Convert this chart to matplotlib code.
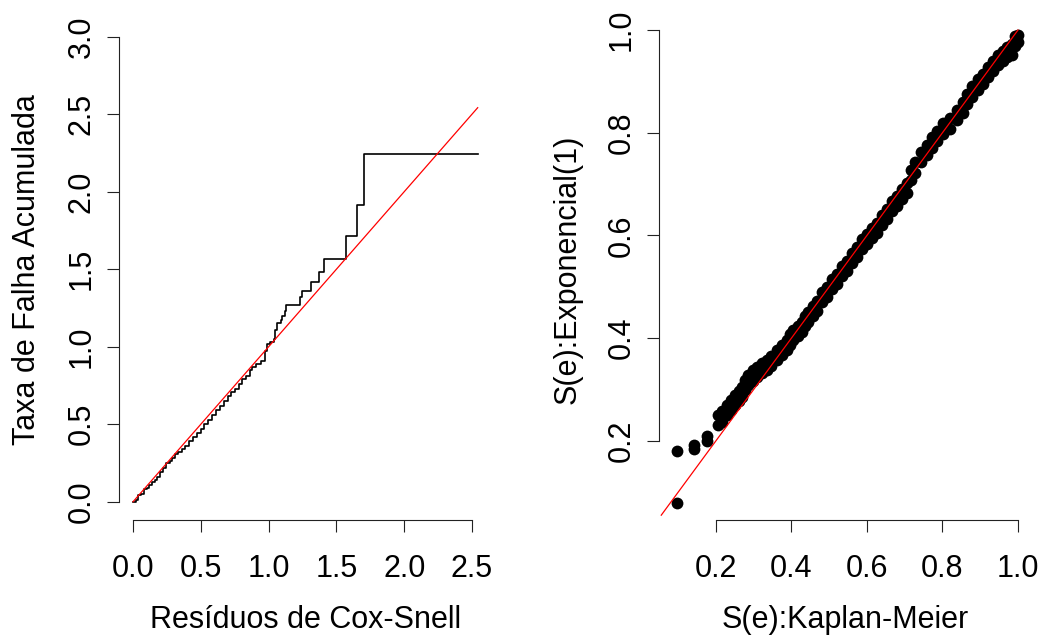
import matplotlib
matplotlib.use("Agg")
import matplotlib.pyplot as plt

plt.rcParams['font.family'] = ['Liberation Sans', 'DejaVu Sans']

# ---------------- data ----------------
# Left panel: Nelson-Aalen cumulative hazard of Cox-Snell residuals (step function)
cs_resid = [0.000, 0.020, 0.040, 0.060, 0.080, 0.100, 0.120, 0.140, 0.160, 0.180,
            0.200, 0.220, 0.240, 0.270, 0.290, 0.310, 0.330, 0.360, 0.380, 0.410,
            0.440, 0.470, 0.500, 0.520, 0.550, 0.580, 0.610, 0.640, 0.670, 0.700,
            0.720, 0.750, 0.780, 0.800, 0.830, 0.860, 0.880, 0.910, 0.940, 0.975,
            0.990, 1.010, 1.040, 1.050, 1.060, 1.090, 1.100, 1.120, 1.130, 1.233,
            1.246, 1.312, 1.368, 1.405, 1.567, 1.651, 1.707, 2.542]
cs_cumhaz = [0.000, 0.010, 0.040, 0.050, 0.080, 0.090, 0.110, 0.130, 0.140, 0.160,
             0.190, 0.220, 0.250, 0.260, 0.280, 0.310, 0.320, 0.340, 0.360, 0.390,
             0.420, 0.440, 0.470, 0.500, 0.530, 0.560, 0.590, 0.620, 0.650, 0.680,
             0.710, 0.730, 0.760, 0.790, 0.810, 0.850, 0.870, 0.890, 0.910, 0.970,
             1.020, 1.030, 1.050, 1.110, 1.150, 1.170, 1.200, 1.230, 1.269, 1.323,
             1.361, 1.419, 1.484, 1.568, 1.714, 1.912, 2.245, 2.245]
ref_left = [0.0, 2.542]          # red identity line, left panel

# Right panel: S(e) Kaplan-Meier vs S(e) Exponential(1)
km_surv = [0.0975, 0.0975, 0.142, 0.142, 0.177, 0.177,
           0.206, 0.206, 0.215, 0.215, 0.228, 0.228, 0.240, 0.240, 0.250, 0.250,
           0.260, 0.260, 0.268, 0.268, 0.278, 0.278, 0.286, 0.286, 0.297, 0.297,
           0.308, 0.308, 0.321, 0.321, 0.334, 0.334, 0.347, 0.347, 0.361, 0.361,
           0.374, 0.374, 0.387, 0.387, 0.397, 0.397, 0.405, 0.405, 0.416, 0.416,
           0.427, 0.427, 0.436, 0.436, 0.445, 0.445, 0.456, 0.456, 0.467, 0.467,
           0.480, 0.480, 0.493, 0.493, 0.506, 0.506, 0.520, 0.520, 0.533, 0.533,
           0.546, 0.546, 0.560, 0.560, 0.573, 0.573, 0.586, 0.586, 0.599, 0.599,
           0.612, 0.612, 0.626, 0.626, 0.639, 0.639, 0.652, 0.652, 0.665, 0.665,
           0.679, 0.679, 0.692, 0.692, 0.705, 0.705, 0.716, 0.716, 0.727, 0.727,
           0.742, 0.742, 0.758, 0.758, 0.771, 0.771, 0.785, 0.785, 0.802, 0.802,
           0.820, 0.820, 0.838, 0.838, 0.855, 0.855, 0.866, 0.866, 0.877, 0.877,
           0.893, 0.893, 0.908, 0.908, 0.921, 0.921, 0.935, 0.935, 0.948, 0.948,
           0.961, 0.961, 0.972, 0.972, 0.983, 0.983, 0.992, 0.992, 1.000, 1.000]
exp_surv = [0.078, 0.180, 0.183, 0.192, 0.200, 0.209,
            0.250, 0.230, 0.257, 0.237, 0.270, 0.250, 0.280, 0.260, 0.289, 0.269,
            0.297, 0.277, 0.305, 0.285, 0.318, 0.298, 0.328, 0.308, 0.337, 0.317,
            0.344, 0.324, 0.351, 0.331, 0.357, 0.337, 0.366, 0.346, 0.377, 0.357,
            0.387, 0.367, 0.396, 0.376, 0.407, 0.387, 0.416, 0.396, 0.424, 0.404,
            0.432, 0.412, 0.443, 0.423, 0.451, 0.431, 0.462, 0.442, 0.473, 0.453,
            0.490, 0.470, 0.500, 0.480, 0.515, 0.495, 0.525, 0.505, 0.540, 0.520,
            0.551, 0.531, 0.566, 0.546, 0.577, 0.557, 0.593, 0.573, 0.603, 0.583,
            0.615, 0.595, 0.625, 0.605, 0.640, 0.620, 0.651, 0.631, 0.667, 0.647,
            0.677, 0.657, 0.690, 0.670, 0.702, 0.682, 0.728, 0.708, 0.742, 0.722,
            0.762, 0.742, 0.776, 0.756, 0.791, 0.771, 0.803, 0.783, 0.818, 0.798,
            0.828, 0.808, 0.844, 0.824, 0.859, 0.839, 0.876, 0.856, 0.890, 0.870,
            0.904, 0.884, 0.915, 0.895, 0.928, 0.908, 0.940, 0.920, 0.952, 0.932,
            0.960, 0.940, 0.967, 0.947, 0.972, 0.952, 0.988, 0.968, 0.990, 0.976]
ref_right = [0.055, 1.0]         # red identity line, right panel

left_xticks = [0.0, 0.5, 1.0, 1.5, 2.0, 2.5]
left_yticks = [0.0, 0.5, 1.0, 1.5, 2.0, 2.5, 3.0]
right_ticks = [0.2, 0.4, 0.6, 0.8, 1.0]

# ---------------- figure ----------------
W, H = 1046, 636
fig = plt.figure(figsize=(W / 100, H / 100), dpi=100)


def add_axes_px(l, r, t, b):
    return fig.add_axes([l / W, 1 - b / H, (r - l) / W, (b - t) / H])


FS = 22


def style(ax, xticks, yticks):
    for s in ('top', 'right'):
        ax.spines[s].set_visible(False)
    for s in ('left', 'bottom'):
        ax.spines[s].set_linewidth(0.8)
        ax.spines[s].set_color('#222222')
    ax.spines['bottom'].set_bounds(xticks[0], xticks[-1])
    ax.spines['left'].set_bounds(yticks[0], yticks[-1])
    ax.set_xticks(xticks)
    ax.set_yticks(yticks)
    ax.set_xticklabels([f"{v:.1f}" for v in xticks])
    ax.set_yticklabels([f"{v:.1f}" for v in yticks], rotation=90, va='center')
    ax.tick_params(axis='both', length=8.6, width=0.8, color='#222222',
                   labelsize=FS)
    ax.tick_params(axis='x', pad=16)
    ax.tick_params(axis='y', pad=7.5)


# Left panel
ax1 = add_axes_px(119.3, 491.2, 18.1, 520.3)
ax1.set_xlim(-0.1016, 2.6416)
ax1.set_ylim(-0.12, 3.12)
ax1.plot(cs_resid, cs_cumhaz, drawstyle='steps-post', color='black', lw=1.2)
ax1.plot(ref_left, ref_left, color='red', lw=0.9)
style(ax1, left_xticks, left_yticks)
ax1.set_xlabel("Resíduos de Cox-Snell", fontsize=FS, va='center')
ax1.xaxis.set_label_coords(0.5, (520.3 - 620) / 502.2)
ax1.set_ylabel("Taxa de Falha Acumulada", fontsize=FS, va='center')
ax1.yaxis.set_label_coords((27 - 119.3) / 371.9, 0.5)

# Right panel
ax2 = add_axes_px(659.3, 1031.8, 18.1, 520.3)
ax2.set_xlim(0.0498, 1.0366)
ax2.set_ylim(0.045, 1.0232)
ax2.plot(km_surv, exp_surv, 'o', color='black', ms=8.5, mew=0)
ax2.plot(ref_right, ref_right, color='red', lw=0.9)
style(ax2, right_ticks, right_ticks)
ax2.set_xlabel("S(e):Kaplan-Meier", fontsize=FS, va='center')
ax2.xaxis.set_label_coords(0.5, (520.3 - 620) / 502.2)
ax2.set_ylabel("S(e):Exponencial(1)", fontsize=FS, va='center')
ax2.yaxis.set_label_coords((568 - 659.3) / 372.5, 0.5)

fig.savefig("out.png", dpi=100)
